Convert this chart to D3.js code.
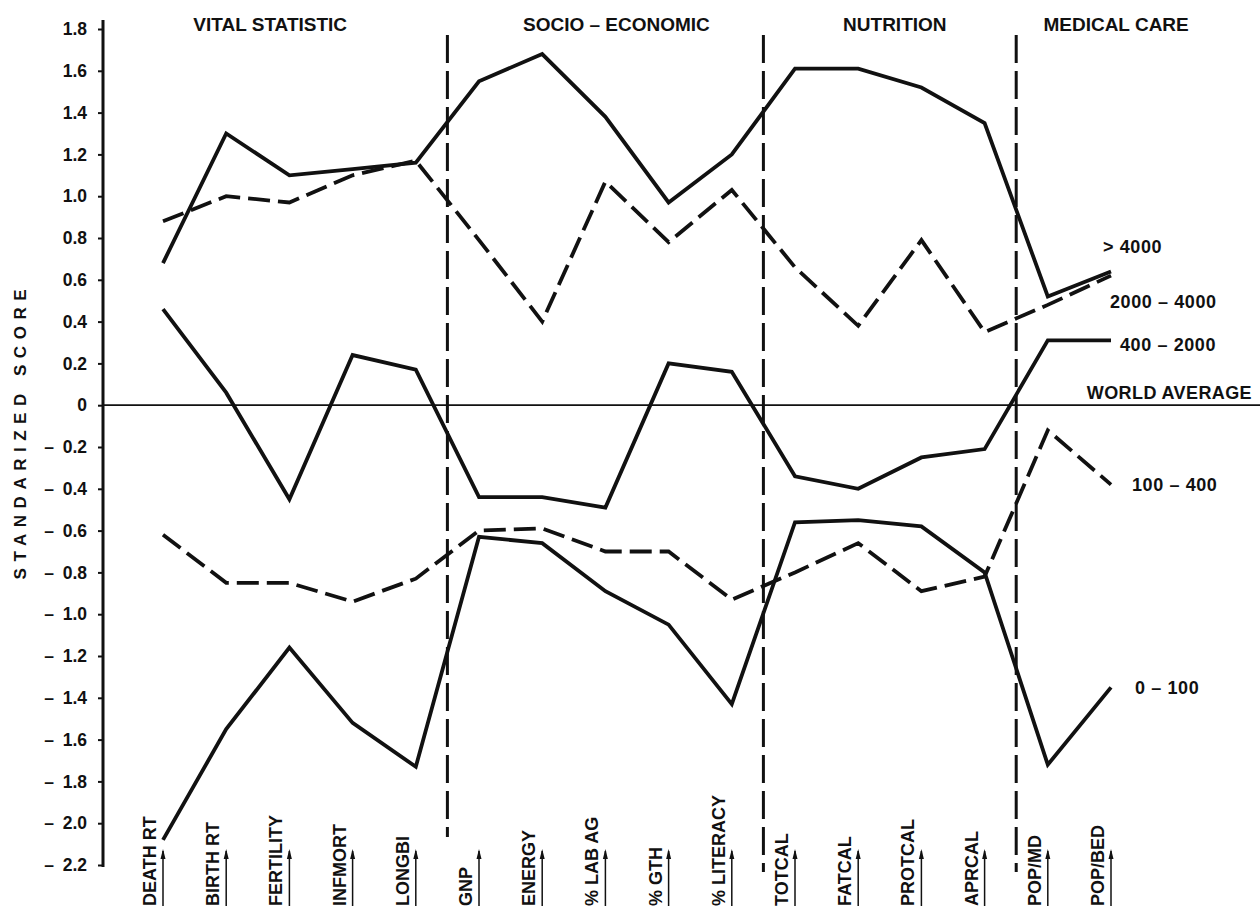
<!DOCTYPE html>
<html>
<head>
<meta charset="utf-8">
<script src="https://cdn.jsdelivr.net/npm/d3@7"></script>
<style>
  html, body { margin: 0; padding: 0; background: #fff; }
  svg text { font-family: "Liberation Sans", Arial, sans-serif; font-weight: bold; fill: #111; }
</style>
</head>
<body>
<svg id="chart" width="1260" height="909"></svg>
<script>
// ---- data ----
const categories = ["DEATH RT","BIRTH RT","FERTILITY","INFMORT","LONGBI","GNP","ENERGY",
  "% LAB AG","% GTH","% LITERACY","TOTCAL","FATCAL","PROTCAL","APRCAL","POP/MD","POP/BED"];

const over4000   = [0.68, 1.30, 1.10, 1.13, 1.16, 1.55, 1.68, 1.38, 0.97, 1.20, 1.61, 1.61, 1.52, 1.35, 0.52, 0.64];
const s2000_4000 = [0.88, 1.00, 0.97, 1.10, 1.17, 0.79, 0.40, 1.07, 0.78, 1.03, 0.66, 0.38, 0.79, 0.35, 0.48, 0.62];
const s400_2000  = [0.46, 0.06, -0.45, 0.24, 0.17, -0.44, -0.44, -0.49, 0.20, 0.16, -0.34, -0.40, -0.25, -0.21, 0.31, 0.31];
const s100_400   = [-0.62, -0.85, -0.85, -0.94, -0.83, -0.60, -0.59, -0.70, -0.70, -0.93, -0.80, -0.66, -0.89, -0.82, -0.12, -0.38];
const s0_100     = [-2.08, -1.55, -1.16, -1.52, -1.73, -0.63, -0.66, -0.89, -1.05, -1.43, -0.56, -0.55, -0.58, -0.80, -1.72, -1.35];

const seriesNames = ["> 4000", "2000 \u2013 4000", "400 \u2013 2000", "100 \u2013 400", "0 \u2013 100"];
const seriesValues = [over4000, s2000_4000, s400_2000, s100_400, s0_100];
const seriesDashed = [false, true, false, true, false];

const groupNames = ["VITAL STATISTIC", "SOCIO \u2013 ECONOMIC", "NUTRITION", "MEDICAL CARE"];
const groupStarts = [0, 5, 10, 14];   // index of first category in each group

const yTicks = [1.8,1.6,1.4,1.2,1.0,0.8,0.6,0.4,0.2,0,-0.2,-0.4,-0.6,-0.8,-1.0,-1.2,-1.4,-1.6,-1.8,-2.0,-2.2];
const yTitle = "STANDARIZED SCORE";
const zeroLabel = "WORLD AVERAGE";

// ---- layout ----
const W = 1260, H = 909;
const axisX = 103;
const svg = d3.select("#chart");

const x = d3.scalePoint().domain(categories).range([163, 1111]);
const y = d3.scaleLinear().domain([-2.2, 1.8]).range([865, 29]);

// y axis
const yAxis = d3.axisLeft(y)
  .tickValues(yTicks)
  .tickSize(5)
  .tickPadding(11)
  .tickFormat(d => d === 0 ? "0" : (d < 0 ? "\u2013\u2002" + d3.format(".1f")(-d) : d3.format(".1f")(d)));

const gy = svg.append("g").attr("transform", `translate(${axisX},0)`).call(yAxis);
gy.select(".domain").remove();
gy.selectAll(".tick line").attr("stroke", "#111").attr("stroke-width", 2);
gy.selectAll(".tick text").style("font-size", "17.5px").attr("fill", "#111");
svg.append("line")
  .attr("x1", axisX).attr("x2", axisX)
  .attr("y1", y(1.8) - 9).attr("y2", y(-2.2) + 2)
  .attr("stroke", "#111").attr("stroke-width", 3);

// y title
svg.append("text")
  .attr("transform", `translate(26,${(y(0.55) + y(-0.83)) / 2}) rotate(-90)`)
  .attr("text-anchor", "middle")
  .attr("textLength", 290)
  .attr("lengthAdjust", "spacing")
  .style("font-size", "17px")
  .text(yTitle);

// zero line
svg.append("line")
  .attr("x1", axisX).attr("x2", W)
  .attr("y1", y(0)).attr("y2", y(0))
  .attr("stroke", "#111").attr("stroke-width", 1.8);
svg.append("text")
  .attr("x", W - 8).attr("y", y(0) - 6)
  .attr("text-anchor", "end")
  .style("font-size", "18px")
  .style("letter-spacing", "0.4px")
  .text(zeroLabel);

// group separators and headers
const step = x.step();
const sepX = groupStarts.slice(1).map(i => x(categories[i]) - step / 2);
sepX.forEach((sx, i) => {
  svg.append("line")
    .attr("x1", sx).attr("x2", sx)
    .attr("y1", y(1.8) + 6)
    .attr("y2", i === 0 ? y(-2.2) - 28 : y(-2.2) + 7)
    .attr("stroke", "#111").attr("stroke-width", 3)
    .attr("stroke-dasharray", "28,8");
});
const bounds = [axisX, ...sepX, W - 44];
const headerOffsets = [-5, 11, 5, 0];
groupNames.forEach((g, i) => {
  svg.append("text")
    .attr("x", (bounds[i] + bounds[i + 1]) / 2 + headerOffsets[i])
    .attr("y", 31)
    .attr("text-anchor", "middle")
    .style("font-size", "19px")
    .text(g);
});

// series lines
const line = d3.line().x((d, i) => x(categories[i])).y(d => y(d));
seriesValues.forEach((vals, k) => {
  svg.append("path")
    .datum(vals)
    .attr("d", line)
    .attr("fill", "none")
    .attr("stroke", "#111")
    .attr("stroke-width", 3.8)
    .attr("stroke-linejoin", "miter")
    .attr("stroke-dasharray", seriesDashed[k] ? "22,8" : null);
});

// series labels at right end
const labelDx = [-8, -1, 9, 21, 24];
const labelDy = [-25, 26, 4, 0, 0];
seriesValues.forEach((vals, k) => {
  const last = vals.length - 1;
  svg.append("text")
    .attr("x", x(categories[last]) + labelDx[k])
    .attr("y", y(vals[last]) + labelDy[k])
    .attr("dy", "0.35em")
    .style("font-size", "18px")
    .style("letter-spacing", "0.6px")
    .text(seriesNames[k]);
});

// category labels with arrows
categories.forEach(c => {
  const cx = x(c);
  svg.append("line")
    .attr("x1", cx).attr("x2", cx)
    .attr("y1", 906).attr("y2", 851)
    .attr("stroke", "#111").attr("stroke-width", 1.5);
  svg.append("path")
    .attr("d", `M${cx - 2.5},${859} L${cx},${849} L${cx + 2.5},${859} Z`)
    .attr("fill", "#111");
  svg.append("text")
    .attr("transform", `translate(${cx - 7},906) rotate(-90)`)
    .attr("text-anchor", "start")
    .style("font-size", "18px")
    .text(c);
});
</script>
</body>
</html>
